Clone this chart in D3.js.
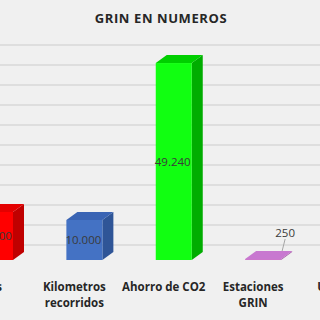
<!DOCTYPE html>
<html>
<head>
<meta charset="utf-8">
<script src="https://cdn.jsdelivr.net/npm/d3@7"></script>
<style>
  html, body { margin: 0; padding: 0; background: #f0f0f0; }
  svg { display: block; }
</style>
</head>
<body>
<svg id="chart"></svg>
<script>
// DATA
const categories = ["Viajes", "Kilometros recorridos", "Ahorro de CO2", "Estaciones GRIN", "Usuarios"];
const values = [12000, 10000, 49240, 250, 3000];
const valueLabels = ["12.000", "10.000", "49.240", "250", "3.000"];
const gridTicks = [0, 5000, 10000, 15000, 20000, 25000, 30000, 35000, 40000, 45000, 50000];
const title = "GRIN EN NUMEROS";

// colours per bar: front, side, top
const faces = [
    ["#ff0000", "#c00000", "#e40000"],
    ["#4472c4", "#2f5597", "#3a64b4"],
    ["#11ff11", "#00ad00", "#00cf00"],
    ["#cc77cc", "#a55aa5", "#c878d0"],
    ["#ffc000", "#c89600", "#e6ac00"]
];

const W = 320, H = 320;
const depth = {dx: 11, dy: -8};
const wallOffset = -15;
const barW = 36;

const svg = d3.select("#chart").attr("width", W).attr("height", H);

svg.append("rect").attr("width", W).attr("height", H).attr("fill", "#f0f0f0");

const x = d3.scalePoint().domain(categories).range([-5, 352.5]);
const y = d3.scaleLinear().domain([0, 50000]).range([260, 60]);

// back wall gridlines
svg.append("g")
    .selectAll("line")
    .data(gridTicks)
    .join("line")
    .attr("x1", 0).attr("x2", W)
    .attr("y1", d => y(d) + wallOffset)
    .attr("y2", d => y(d) + wallOffset)
    .attr("stroke", "#d9d9d9")
    .attr("stroke-width", 1.6);

// 3D bars
const bars = svg.append("g")
    .selectAll("g")
    .data(categories.map((c, i) => ({cat: c, v: values[i], lab: valueLabels[i], col: faces[i]})))
    .join("g");

bars.each(function(d) {
    const g = d3.select(this);
    const x0 = x(d.cat) - barW / 2, x1 = x0 + barW;
    const y0 = y(0), y1 = Math.min(y(d.v), y0 - 1);
    const {dx, dy} = depth;
    // side
    g.append("path")
        .attr("d", `M${x1},${y1}L${x1 + dx},${y1 + dy}L${x1 + dx},${y0 + dy}L${x1},${y0}Z`)
        .attr("fill", d.col[1]);
    // top
    g.append("path")
        .attr("d", `M${x0},${y1}L${x0 + dx},${y1 + dy}L${x1 + dx},${y1 + dy}L${x1},${y1}Z`)
        .attr("fill", d.col[2]);
    // front
    g.append("rect")
        .attr("x", x0).attr("y", y1)
        .attr("width", barW).attr("height", y0 - y1)
        .attr("fill", d.col[0]);
});

// value labels: inside the bar, or above with a leader line when the bar is too short
bars.each(function(d) {
    const g = d3.select(this);
    const cx = x(d.cat);
    const h = y(0) - y(d.v);
    if (h > 20) {
        g.append("text")
            .attr("x", cx - 1)
            .attr("y", (y(0) + y(d.v)) / 2 + 4)
            .attr("text-anchor", "middle")
            .attr("font-family", "Open Sans, sans-serif")
            .attr("font-size", 11.5)
            .attr("fill", "#3a3a3a")
            .text(d.lab);
    } else {
        g.append("line")
            .attr("x1", cx + 22).attr("y1", y(d.v) - 20)
            .attr("x2", cx + 19).attr("y2", y(d.v) - 8)
            .attr("stroke", "#a6a6a6").attr("stroke-width", 1);
        g.append("text")
            .attr("x", cx + 22)
            .attr("y", y(d.v) - 22)
            .attr("text-anchor", "middle")
            .attr("font-family", "Open Sans, sans-serif")
            .attr("font-size", 11.5)
            .attr("fill", "#3a3a3a")
            .text(d.lab);
    }
});

// category labels, wrapped to the band width
const labels = svg.append("g")
    .selectAll("text")
    .data(categories)
    .join("text")
    .attr("x", d => x(d) - 10)
    .attr("y", 291)
    .attr("text-anchor", "middle")
    .attr("font-family", "Open Sans, sans-serif")
    .attr("font-weight", "bold")
    .attr("font-size", 11.5)
    .attr("fill", "#262626");

labels.each(function(d) {
    const t = d3.select(this);
    const words = d.split(" ");
    let line = [], lines = [];
    const probe = t.append("tspan");
    words.forEach(w => {
        probe.text([...line, w].join(" "));
        if (line.length && probe.node().getComputedTextLength() > 84) {
            lines.push(line.join(" "));
            line = [w];
        } else {
            line.push(w);
        }
    });
    lines.push(line.join(" "));
    probe.remove();
    lines.forEach((l, i) => {
        t.append("tspan")
            .attr("x", x(d) - 10)
            .attr("dy", i === 0 ? 0 : 16)
            .text(l);
    });
});

// title
svg.append("text")
    .attr("x", 161)
    .attr("y", 23)
    .attr("text-anchor", "middle")
    .attr("font-family", "Open Sans, sans-serif")
    .attr("font-weight", "bold")
    .attr("font-size", 13)
    .attr("letter-spacing", 0.6)
    .attr("fill", "#262626")
    .text(title);
</script>
</body>
</html>
